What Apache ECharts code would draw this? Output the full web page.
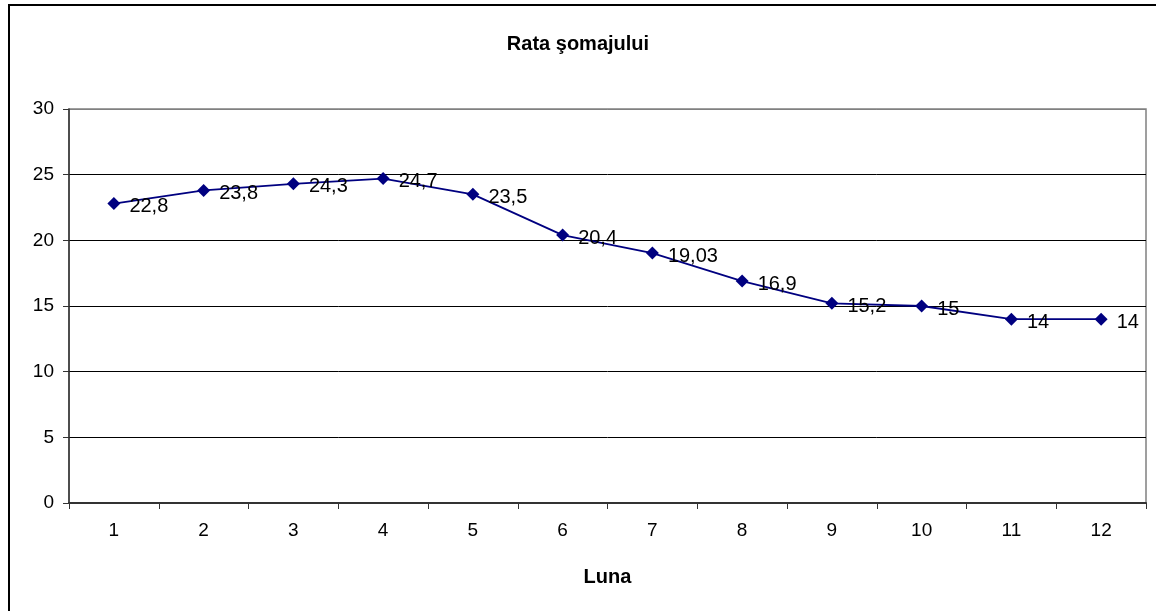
<!DOCTYPE html>
<html>
<head>
<meta charset="utf-8">
<script src="https://cdn.jsdelivr.net/npm/echarts@6/dist/echarts.min.js"></script>
<style>
html,body{margin:0;padding:0;background:#fff;}
#c{width:1156px;height:611px;}
</style>
</head>
<body>
<div id="c"></div>
<script>
const titleText = 'Rata şomajului';
const xAxisName = 'Luna';
const months = ['1','2','3','4','5','6','7','8','9','10','11','12'];
const rate = [22.8, 23.8, 24.3, 24.7, 23.5, 20.4, 19.03, 16.9, 15.2, 15, 14, 14];
const yTicks = [0, 5, 10, 15, 20, 25, 30];

const font = '"Liberation Sans", Arial, sans-serif';
const chart = echarts.init(document.getElementById('c'), null, {renderer: 'canvas'});
chart.setOption({
  animation: false,
  backgroundColor: '#fff',
  title: {
    text: titleText, left: 'center', top: 29,
    textStyle: {fontFamily: font, fontSize: 20, fontWeight: 'bold', color: '#000'}
  },
  graphic: [{
    type: 'rect', silent: true,
    shape: {x: 9, y: 5, width: 1160, height: 620},
    style: {fill: 'none', stroke: '#000', lineWidth: 2}
  }, {
    type: 'rect', silent: true, z: 0,
    shape: {x: 69, y: 109, width: 1077, height: 394},
    style: {fill: 'none', stroke: '#808080', lineWidth: 1.5}
  }],
  grid: {left: 69, top: 109, right: 10, bottom: 108, containLabel: false},
  xAxis: {
    type: 'category', data: months, boundaryGap: true,
    name: xAxisName, nameLocation: 'middle', nameGap: 64,
    nameTextStyle: {fontFamily: font, fontSize: 20, fontWeight: 'bold', color: '#000'},
    axisLine: {lineStyle: {color: '#333', width: 2}},
    axisTick: {show: true, alignWithLabel: false, length: 6, inside: false, lineStyle: {color: '#333'}},
    axisLabel: {fontFamily: font, fontSize: 19, color: '#000', margin: 18},
    splitLine: {show: false}
  },
  yAxis: {
    type: 'value', min: yTicks[0], max: yTicks[yTicks.length - 1], interval: 5,
    axisLine: {show: true, lineStyle: {color: '#333', width: 1.5}},
    axisTick: {show: true, length: 6, lineStyle: {color: '#333'}},
    axisLabel: {fontFamily: font, fontSize: 19, color: '#000', margin: 15},
    splitLine: {show: true, lineStyle: {color: ['#000', '#000', '#000', '#000', '#000', '#000', '#808080'], width: 1}}
  },
  series: [{
    type: 'line', data: rate,
    symbol: 'diamond', symbolSize: 13,
    lineStyle: {color: '#000080', width: 1.8},
    itemStyle: {color: '#000080'},
    label: {
      show: true, position: 'right', distance: 9,
      fontFamily: font, fontSize: 20, color: '#000',
      offset: [0, 3],
      formatter: p => String(p.value).replace('.', ',')
    }
  }]
});
</script>
</body>
</html>
